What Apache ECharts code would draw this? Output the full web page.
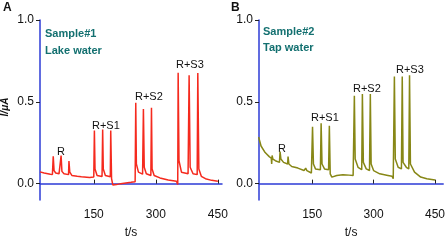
<!DOCTYPE html>
<html>
<head>
<meta charset="utf-8">
<script src="https://cdn.jsdelivr.net/npm/echarts@6/dist/echarts.min.js"></script>
<style>
  html, body { margin: 0; padding: 0; background: #fff; }
  #chart { width: 448px; height: 244px; }
</style>
</head>
<body>
<div id="chart"></div>
<script>
  // panel A, lake water
  const timeA = [20, 30, 45, 50, 52, 54, 58, 66, 70, 71, 73, 78, 89, 90, 92, 97, 110, 120, 122, 124, 140, 150,
    151.5, 153, 158, 170, 171.5, 173, 178, 190, 191, 193, 196, 205, 215, 240, 250,
    251.5, 253, 258, 268, 270, 272, 277, 288, 289.5, 291, 296, 310, 330, 350,
    353, 354, 356, 362, 378, 380.5, 383, 390, 400, 401.5, 404, 410, 420, 435, 450]
  const currentA = [0.072, 0.065, 0.058, 0.056, 0.167, 0.08, 0.065, 0.06, 0.058, 0.171, 0.075, 0.06, 0.055, 0.138, 0.07, 0.05, 0.045, 0.042, 0.05, 0.042, 0.038, 0.04,
    0.325, 0.09, 0.05, 0.043, 0.331, 0.09, 0.05, 0.042, 0.325, 0.03, -0.008, -0.006, 0.0, 0.008, 0.012,
    0.495, 0.12, 0.07, 0.058, 0.456, 0.1, 0.06, 0.05, 0.463, 0.09, 0.05, 0.035, 0.022, 0.015,
    -0.005, 0.678, 0.14, 0.07, 0.06, 0.663, 0.1, 0.06, 0.055, 0.676, 0.09, 0.045, 0.03, 0.02, 0.015]

  // panel B, tap water
  const timeB = [19, 25, 35, 45, 50, 51, 52, 54, 60, 70, 71.5, 73.5, 80, 90, 91, 93, 100, 115, 130, 134, 137, 148,
    150.8, 153, 158, 170, 171.8, 174, 180, 190, 191.9, 194, 198, 210, 225, 240, 250,
    253, 255, 262, 271, 272.6, 275, 282, 290, 292, 294, 300, 315, 335, 345,
    348, 350.8, 353, 360, 368, 370, 372, 380, 386, 387.8, 390, 400, 415, 430, 450]
  const currentB = [0.285, 0.23, 0.19, 0.165, 0.155, 0.12, 0.172, 0.15, 0.14, 0.13, 0.196, 0.15, 0.13, 0.12, 0.165, 0.12, 0.105, 0.095, 0.08, 0.095, 0.08, 0.065,
    0.347, 0.12, 0.09, 0.085, 0.369, 0.12, 0.09, 0.085, 0.353, 0.06, 0.04, 0.05, 0.055, 0.052, 0.05,
    0.537, 0.15, 0.1, 0.085, 0.547, 0.13, 0.09, 0.08, 0.547, 0.12, 0.08, 0.06, 0.05, 0.045,
    0.03, 0.655, 0.15, 0.1, 0.09, 0.655, 0.13, 0.1, 0.09, 0.662, 0.12, 0.07, 0.04, 0.03, 0.022]

  const xTicks = [150, 300, 450]
  const yTicks = [0, 0.5, 1]

  const font = 'Liberation Sans, Arial, sans-serif'
  const axisBlue = '#2d3bd6'
  const teal = '#137070'

  function pairs(xs, ys) {
    return xs.map((x, i) => [x, ys[i]])
  }

  function xAxis(idx, max) {
    return {
      type: 'value', gridIndex: idx, min: 20, max: max,
      name: 't/s', nameLocation: 'middle', nameGap: 27,
      nameTextStyle: { color: '#111', fontSize: 12, fontFamily: font },
      axisLine: { show: true, lineStyle: { color: axisBlue, width: 1.5 } },
      axisTick: { show: true, inside: true, length: 4, customValues: xTicks, lineStyle: { color: '#222' } },
      axisLabel: { customValues: xTicks, color: '#111', fontSize: 12, fontFamily: font, margin: 9 },
      splitLine: { show: false },
    }
  }

  function yAxis(idx) {
    return {
      type: 'value', gridIndex: idx, min: -0.1, max: 1.0,
      axisLine: { show: true, lineStyle: { color: axisBlue, width: 1.5 } },
      axisTick: { show: true, length: 4, customValues: yTicks, lineStyle: { color: '#222' } },
      axisLabel: { customValues: yTicks, color: '#111', fontSize: 12, fontFamily: font, margin: 6,
        formatter: v => v.toFixed(1) },
      splitLine: { show: false },
    }
  }

  function note(x, y, txt, color) {
    return { type: 'text', left: x, top: y,
      style: { text: txt, fill: color || '#111', font: (color ? 'bold ' : '') + '11px ' + font } }
  }

  const chart = echarts.init(document.getElementById('chart'), null, { renderer: 'canvas' })
  chart.setOption({
    animation: false,
    grid: [
      { left: 40, top: 20, width: 182, height: 186 },
      { left: 259, top: 20, width: 186, height: 185 },
    ],
    xAxis: [xAxis(0, 460), xAxis(1, 470)],
    yAxis: [yAxis(0), yAxis(1)],
    series: [
      { type: 'line', xAxisIndex: 0, yAxisIndex: 0, data: pairs(timeA, currentA), showSymbol: false,
        lineStyle: { color: '#f52a1e', width: 1.5 } },
      { type: 'line', xAxisIndex: 1, yAxisIndex: 1, data: pairs(timeB, currentB), showSymbol: false,
        lineStyle: { color: '#878716', width: 1.5 } },
    ],
    graphic: [
      { type: 'text', left: 3, top: 2, style: { text: 'A', fill: '#111', font: 'bold 12px ' + font } },
      { type: 'text', left: 231, top: 2, style: { text: 'B', fill: '#111', font: 'bold 12px ' + font } },
      { type: 'text', x: 5, y: 107, rotation: Math.PI / 2,
        style: { text: 'I/μA', fill: '#111', font: 'italic bold 10px ' + font, align: 'center', verticalAlign: 'middle' } },
      note(45, 28, 'Sample#1', teal),
      note(45, 45, 'Lake water', teal),
      note(263, 26, 'Sample#2', teal),
      note(263, 42, 'Tap water', teal),
      note(57, 146, 'R'),
      note(92, 120, 'R+S1'),
      note(135, 91, 'R+S2'),
      note(176, 59, 'R+S3'),
      note(278, 143, 'R'),
      note(311, 112, 'R+S1'),
      note(353, 83, 'R+S2'),
      note(396, 64, 'R+S3'),
    ],
  })
</script>
</body>
</html>
